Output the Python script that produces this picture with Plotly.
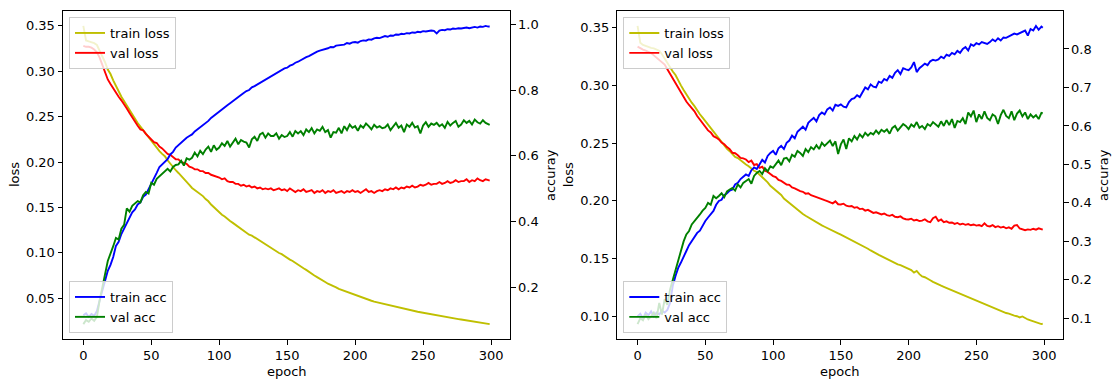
import plotly.graph_objects as go

# Training history, sampled every 2 epochs plus the final epoch (299)
epochs = list(range(0, 300, 2)) + [299]

# ---- run A (left panel) ----
a_train_loss = [
    0.350, 0.334, 0.333, 0.332, 0.331, 0.329, 0.323, 0.317, 0.310, 0.302,
    0.297, 0.290, 0.283, 0.278, 0.272, 0.267, 0.262, 0.257, 0.252, 0.248,
    0.243, 0.239, 0.235, 0.231, 0.227, 0.223, 0.219, 0.216, 0.212, 0.209,
    0.2065, 0.202, 0.198, 0.194, 0.191, 0.188, 0.185, 0.181, 0.178, 0.175,
    0.1715, 0.1695, 0.1672, 0.1648, 0.1625, 0.1592, 0.1568, 0.1532, 0.1505, 0.1472,
    0.144, 0.142, 0.140, 0.137, 0.135, 0.133, 0.131, 0.128, 0.126, 0.124,
    0.122, 0.120, 0.119, 0.117, 0.115, 0.113, 0.111, 0.109, 0.107, 0.105,
    0.1035, 0.1020, 0.0998, 0.0985, 0.0962, 0.0948, 0.0925, 0.0910, 0.0888, 0.0873,
    0.0852, 0.0830, 0.0812, 0.0789, 0.0772, 0.0750, 0.0733, 0.0712, 0.0695, 0.0678,
    0.0660, 0.0648, 0.0632, 0.0620, 0.0603, 0.0592, 0.0578, 0.0566, 0.0553, 0.0542,
    0.0530, 0.0521, 0.0510, 0.0502, 0.0490, 0.0480, 0.0472, 0.0462, 0.0455, 0.0444,
    0.0435, 0.0428, 0.0420, 0.0414, 0.0406, 0.0400, 0.0393, 0.0388, 0.0381, 0.0376,
    0.0370, 0.0363, 0.0358, 0.0351, 0.0346, 0.0340, 0.0333, 0.0328, 0.0322, 0.0316,
    0.0310, 0.0305, 0.0300, 0.0294, 0.0290, 0.0285, 0.0280, 0.0274, 0.0270, 0.0265,
    0.0260, 0.0256, 0.0250, 0.0247, 0.0241, 0.0235, 0.0231, 0.0226, 0.0221, 0.0218,
    0.0215,
]
a_val_loss = [
    0.328, 0.327, 0.327, 0.326, 0.324, 0.321, 0.315, 0.307, 0.300, 0.291,
    0.286, 0.281, 0.276, 0.272, 0.268, 0.264, 0.259, 0.254, 0.249, 0.244,
    0.240, 0.236, 0.235, 0.231, 0.228, 0.226, 0.222, 0.221, 0.217, 0.215,
    0.212, 0.209, 0.208, 0.206, 0.203, 0.203, 0.200, 0.199, 0.198, 0.195,
    0.194, 0.192, 0.192, 0.190, 0.190, 0.188, 0.188, 0.186, 0.185, 0.184,
    0.183, 0.181, 0.182, 0.179, 0.178, 0.178, 0.176, 0.176, 0.174, 0.175,
    0.173, 0.174, 0.172, 0.173, 0.171, 0.172, 0.170, 0.171, 0.170, 0.171,
    0.169, 0.170, 0.171, 0.169, 0.170, 0.168, 0.171, 0.169, 0.167, 0.169,
    0.168, 0.170, 0.167, 0.168, 0.169, 0.166, 0.168, 0.167, 0.169, 0.166,
    0.168, 0.167, 0.169, 0.166, 0.167, 0.168, 0.166, 0.168, 0.167, 0.169,
    0.167, 0.168, 0.166, 0.168, 0.170, 0.167, 0.168, 0.166, 0.168, 0.169,
    0.168, 0.170, 0.169, 0.171, 0.170, 0.172, 0.170, 0.172, 0.171, 0.173,
    0.172, 0.174, 0.172, 0.173, 0.175, 0.174, 0.175, 0.177, 0.175, 0.176,
    0.176, 0.178, 0.176, 0.177, 0.179, 0.177, 0.178, 0.180, 0.178, 0.179,
    0.179, 0.181, 0.178, 0.180, 0.179, 0.182, 0.180, 0.179, 0.181, 0.180,
    0.1795,
]
a_train_acc = [
    0.115, 0.121, 0.110, 0.119, 0.113, 0.128, 0.160, 0.190, 0.222, 0.250,
    0.268, 0.292, 0.326, 0.338, 0.362, 0.378, 0.395, 0.409, 0.428, 0.437,
    0.452, 0.458, 0.475, 0.482, 0.498, 0.513, 0.528, 0.548, 0.566, 0.575,
    0.584, 0.590, 0.604, 0.612, 0.625, 0.633, 0.641, 0.648, 0.655, 0.660,
    0.665, 0.674, 0.680, 0.688, 0.692, 0.700, 0.706, 0.715, 0.722, 0.729,
    0.736, 0.741, 0.749, 0.754, 0.760, 0.767, 0.772, 0.779, 0.785, 0.791,
    0.797, 0.800, 0.808, 0.812, 0.817, 0.822, 0.828, 0.833, 0.838, 0.843,
    0.848, 0.851, 0.857, 0.861, 0.866, 0.868, 0.874, 0.877, 0.883, 0.886,
    0.891, 0.895, 0.900, 0.903, 0.908, 0.913, 0.917, 0.920, 0.922, 0.925,
    0.927, 0.931, 0.930, 0.935, 0.936, 0.939, 0.938, 0.943, 0.941, 0.945,
    0.946, 0.944, 0.949, 0.951, 0.950, 0.954, 0.953, 0.957, 0.959, 0.958,
    0.962, 0.964, 0.962, 0.966, 0.965, 0.969, 0.968, 0.971, 0.970, 0.973,
    0.972, 0.975, 0.974, 0.977, 0.976, 0.979, 0.978, 0.980, 0.981, 0.980,
    0.972, 0.981, 0.983, 0.982, 0.985, 0.984, 0.987, 0.986, 0.988, 0.987,
    0.989, 0.990, 0.988, 0.991, 0.992, 0.990, 0.993, 0.992, 0.995, 0.993,
    0.993,
]
a_val_acc = [
    0.088, 0.100, 0.095, 0.105, 0.098, 0.110, 0.160, 0.205, 0.240, 0.280,
    0.300, 0.325, 0.350, 0.345, 0.378, 0.390, 0.440, 0.430, 0.448, 0.455,
    0.462, 0.458, 0.480, 0.490, 0.485, 0.518, 0.512, 0.530, 0.538, 0.545,
    0.553, 0.560, 0.552, 0.566, 0.572, 0.574, 0.585, 0.570, 0.592, 0.588,
    0.594, 0.610, 0.598, 0.615, 0.605, 0.619, 0.628, 0.612, 0.632, 0.618,
    0.625, 0.638, 0.630, 0.645, 0.628, 0.640, 0.652, 0.635, 0.648, 0.643,
    0.640, 0.625, 0.650, 0.658, 0.645, 0.665, 0.670, 0.655, 0.668, 0.660,
    0.660, 0.668, 0.652, 0.663, 0.657, 0.660, 0.672, 0.658, 0.675, 0.668,
    0.675, 0.663, 0.680, 0.672, 0.684, 0.668, 0.680, 0.676, 0.688, 0.672,
    0.678, 0.655, 0.672, 0.670, 0.685, 0.668, 0.690, 0.678, 0.695, 0.685,
    0.690, 0.676, 0.692, 0.685, 0.698, 0.690, 0.680, 0.694, 0.686, 0.690,
    0.684, 0.686, 0.695, 0.678, 0.690, 0.700, 0.685, 0.692, 0.672, 0.695,
    0.688, 0.700, 0.686, 0.690, 0.668, 0.692, 0.702, 0.688, 0.698, 0.694,
    0.700, 0.690, 0.696, 0.685, 0.703, 0.692, 0.700, 0.706, 0.688, 0.695,
    0.708, 0.700, 0.706, 0.695, 0.710, 0.702, 0.698, 0.708, 0.700, 0.696,
    0.694,
]

# ---- run B (right panel) ----
b_train_loss = [
    0.3515, 0.337, 0.335, 0.334, 0.333, 0.3325, 0.332, 0.331, 0.330, 0.327,
    0.323, 0.320, 0.316, 0.312, 0.309, 0.304, 0.300, 0.296, 0.292, 0.289,
    0.285, 0.282, 0.278, 0.275, 0.272, 0.269, 0.265, 0.262, 0.259, 0.256,
    0.253, 0.250, 0.248, 0.245, 0.243, 0.240, 0.238, 0.237, 0.235, 0.233,
    0.2315, 0.230, 0.228, 0.226, 0.225, 0.2228, 0.220, 0.218, 0.216, 0.213,
    0.211, 0.209, 0.207, 0.205, 0.202, 0.200, 0.198, 0.196, 0.194, 0.192,
    0.190, 0.1885, 0.187, 0.1855, 0.184, 0.1825, 0.1812, 0.180, 0.1787, 0.1775,
    0.1765, 0.1752, 0.174, 0.1728, 0.1718, 0.1707, 0.1695, 0.1685, 0.1672, 0.1662,
    0.165, 0.1638, 0.1625, 0.1612, 0.160, 0.1585, 0.157, 0.156, 0.1545, 0.1532,
    0.152, 0.1508, 0.1495, 0.1485, 0.147, 0.146, 0.145, 0.1443, 0.1432, 0.1422,
    0.1412, 0.1400, 0.1378, 0.1392, 0.1365, 0.1345, 0.1338, 0.1322, 0.1312, 0.1298,
    0.1285, 0.1278, 0.1265, 0.1255, 0.1245, 0.1235, 0.1228, 0.1215, 0.1205, 0.1195,
    0.1188, 0.1178, 0.1165, 0.1158, 0.1145, 0.1137, 0.1125, 0.1118, 0.1105, 0.1098,
    0.1088, 0.1080, 0.1068, 0.1060, 0.1048, 0.1040, 0.1028, 0.1022, 0.1012, 0.1005,
    0.1000, 0.0990, 0.0998, 0.0982, 0.0972, 0.0965, 0.0958, 0.0948, 0.0942, 0.0932,
    0.0936,
]
b_val_loss = [
    0.3335, 0.332, 0.331, 0.330, 0.329, 0.328, 0.326, 0.324, 0.322, 0.320,
    0.318, 0.314, 0.310, 0.306, 0.302, 0.298, 0.294, 0.289, 0.286, 0.283,
    0.2806, 0.2775, 0.2735, 0.2705, 0.2675, 0.2648, 0.2610, 0.2592, 0.2560, 0.2548,
    0.2532, 0.2505, 0.2490, 0.2465, 0.2448, 0.2416, 0.2412, 0.2395, 0.2372, 0.2368,
    0.2358, 0.2335, 0.2348, 0.2310, 0.2318, 0.2286, 0.2295, 0.2260, 0.2250, 0.2232,
    0.2214, 0.2205, 0.2180, 0.2172, 0.2158, 0.2141, 0.2138, 0.2115, 0.2108, 0.2095,
    0.2084, 0.2078, 0.2062, 0.2065, 0.2048, 0.2040, 0.2030, 0.2022, 0.2010, 0.2005,
    0.1997, 0.1990, 0.1978, 0.1995, 0.1970, 0.1968, 0.1975, 0.1958, 0.1952, 0.1955,
    0.1940, 0.1945, 0.1928, 0.1932, 0.1915, 0.1922, 0.1905, 0.1895, 0.1900, 0.1888,
    0.1882, 0.1890, 0.1876, 0.1870, 0.1878, 0.1862, 0.1858, 0.1865, 0.1848, 0.1840,
    0.1838, 0.1845, 0.1830, 0.1835, 0.1825, 0.1828, 0.1840, 0.1822, 0.1815, 0.1850,
    0.1862, 0.1825, 0.1838, 0.1815, 0.1822, 0.1810, 0.1812, 0.1800, 0.1808, 0.1795,
    0.1802, 0.1792, 0.1798, 0.1788, 0.1795, 0.1785, 0.1790, 0.1780, 0.1805, 0.1782,
    0.1778, 0.1790, 0.1772, 0.1780, 0.1768, 0.1775, 0.1762, 0.1770, 0.1758, 0.1785,
    0.1790, 0.1760, 0.1750, 0.1745, 0.1752, 0.1748, 0.1758, 0.1750, 0.1762, 0.1752,
    0.1750,
]
b_train_acc = [
    0.105, 0.112, 0.100, 0.115, 0.108, 0.118, 0.105, 0.115, 0.110, 0.120,
    0.115, 0.122, 0.140, 0.185, 0.210, 0.231, 0.245, 0.262, 0.275, 0.290,
    0.300, 0.310, 0.322, 0.328, 0.342, 0.353, 0.362, 0.370, 0.379, 0.395,
    0.405, 0.408, 0.420, 0.425, 0.432, 0.435, 0.448, 0.452, 0.462, 0.468,
    0.474, 0.470, 0.485, 0.492, 0.488, 0.500, 0.512, 0.505, 0.522, 0.530,
    0.535, 0.525, 0.542, 0.548, 0.540, 0.556, 0.562, 0.575, 0.568, 0.585,
    0.591, 0.598, 0.590, 0.608, 0.615, 0.621, 0.612, 0.628, 0.635, 0.630,
    0.643, 0.648, 0.640, 0.655, 0.652, 0.656, 0.650, 0.648, 0.662, 0.670,
    0.672, 0.680, 0.675, 0.688, 0.700, 0.695, 0.708, 0.702, 0.700, 0.715,
    0.712, 0.722, 0.718, 0.730, 0.725, 0.738, 0.745, 0.735, 0.750, 0.747,
    0.745, 0.752, 0.766, 0.740, 0.750, 0.756, 0.762, 0.758, 0.768, 0.772,
    0.770, 0.773, 0.780, 0.776, 0.785, 0.782, 0.790, 0.786, 0.795, 0.790,
    0.800, 0.805, 0.796, 0.812, 0.808, 0.815, 0.812, 0.818, 0.816, 0.813,
    0.818, 0.825, 0.820, 0.828, 0.822, 0.830, 0.829, 0.833, 0.836, 0.840,
    0.838, 0.842, 0.845, 0.848, 0.835, 0.852, 0.848, 0.860, 0.850, 0.858,
    0.855,
]
b_val_acc = [
    0.085, 0.100, 0.095, 0.110, 0.098, 0.105, 0.115, 0.100, 0.140, 0.110,
    0.150, 0.135, 0.175, 0.200, 0.225, 0.257, 0.275, 0.300, 0.318, 0.327,
    0.344, 0.352, 0.362, 0.370, 0.380, 0.387, 0.400, 0.395, 0.418, 0.412,
    0.418, 0.425, 0.415, 0.430, 0.435, 0.439, 0.432, 0.448, 0.440, 0.452,
    0.457, 0.462, 0.450, 0.470, 0.478, 0.483, 0.475, 0.490, 0.482, 0.495,
    0.491, 0.500, 0.510, 0.498, 0.515, 0.517, 0.508, 0.525, 0.520, 0.535,
    0.530, 0.522, 0.540, 0.532, 0.545, 0.539, 0.550, 0.540, 0.556, 0.548,
    0.556, 0.562, 0.548, 0.560, 0.527, 0.552, 0.565, 0.540, 0.568, 0.560,
    0.574, 0.565, 0.578, 0.570, 0.582, 0.575, 0.582, 0.578, 0.588, 0.580,
    0.590, 0.585, 0.591, 0.580, 0.595, 0.600, 0.588, 0.598, 0.605, 0.600,
    0.592, 0.604, 0.598, 0.610, 0.595, 0.600, 0.592, 0.605, 0.600, 0.610,
    0.604, 0.598, 0.612, 0.600, 0.615, 0.602, 0.618, 0.595, 0.613, 0.610,
    0.620, 0.605, 0.635, 0.625, 0.640, 0.610, 0.630, 0.618, 0.638, 0.621,
    0.615, 0.630, 0.625, 0.605, 0.628, 0.642, 0.626, 0.620, 0.638, 0.615,
    0.632, 0.640, 0.625, 0.635, 0.618, 0.630, 0.622, 0.628, 0.618, 0.634,
    0.633,
]

W, H = 1113, 379
FONT = dict(family="DejaVu Sans", size=13, color="black")
COLORS = dict(train_loss="#bfbf00", val_loss="#ff0000", train_acc="#0000ff", val_acc="#008000")
LW = 1.9


def fx(px):
    return px / W


def fy(py):
    return 1 - py / H


def padded(*series):
    lo = min(min(s) for s in series)
    hi = max(max(s) for s in series)
    pad = 0.05 * (hi - lo)
    return [lo - pad, hi + pad]


panels = [
    dict(loss=(a_train_loss, a_val_loss), acc=(a_train_acc, a_val_acc),
         left=63, right=510, loss_dtick=0.05, acc_dtick=0.2),
    dict(loss=(b_train_loss, b_val_loss), acc=(b_train_acc, b_val_acc),
         left=617.3, right=1063, loss_dtick=0.05, acc_dtick=0.1),
]
TOP, BOTTOM = 11, 339

fig = go.Figure()
layout = dict(
    width=W, height=H, margin=dict(l=0, r=0, t=0, b=0),
    paper_bgcolor="white", plot_bgcolor="white", showlegend=True,
    font=FONT,
)
annotations = []

axis_common = dict(
    showline=True, linecolor="black", linewidth=1, ticks="outside", ticklen=4.5,
    tickwidth=1, tickcolor="black", showgrid=False, zeroline=False, tickfont=FONT,
)

for i, p in enumerate(panels):
    xa = "x" if i == 0 else "x2"
    ya_loss = "y" if i == 0 else "y3"
    ya_acc = "y2" if i == 0 else "y4"
    leg_top = "legend" if i == 0 else "legend3"
    leg_bot = "legend2" if i == 0 else "legend4"

    tl, vl = p["loss"]
    ta, va = p["acc"]
    fig.add_trace(go.Scatter(x=epochs, y=tl, mode="lines", name="train loss",
                             line=dict(color=COLORS["train_loss"], width=LW),
                             xaxis=xa, yaxis=ya_loss, legend=leg_top))
    fig.add_trace(go.Scatter(x=epochs, y=vl, mode="lines", name="val loss",
                             line=dict(color=COLORS["val_loss"], width=LW),
                             xaxis=xa, yaxis=ya_loss, legend=leg_top))
    fig.add_trace(go.Scatter(x=epochs, y=ta, mode="lines", name="train acc",
                             line=dict(color=COLORS["train_acc"], width=LW),
                             xaxis=xa, yaxis=ya_acc, legend=leg_bot))
    fig.add_trace(go.Scatter(x=epochs, y=va, mode="lines", name="val acc",
                             line=dict(color=COLORS["val_acc"], width=LW),
                             xaxis=xa, yaxis=ya_acc, legend=leg_bot))

    xname = "xaxis" if i == 0 else "xaxis2"
    yl_name = "yaxis" if i == 0 else "yaxis3"
    ya_name = "yaxis2" if i == 0 else "yaxis4"

    layout[xname] = dict(axis_common, domain=[fx(p["left"]), fx(p["right"])],
                         anchor=ya_loss, range=padded(epochs), tick0=0, dtick=50,
                         mirror=True)
    layout[yl_name] = dict(axis_common, domain=[fy(BOTTOM), fy(TOP)], anchor=xa,
                           range=padded(tl, vl), tick0=0, dtick=p["loss_dtick"],
                           tickformat=".2f", side="left")
    layout[ya_name] = dict(axis_common, overlaying=ya_loss, anchor=xa, side="right",
                           range=padded(ta, va), tick0=0, dtick=p["acc_dtick"],
                           tickformat=".1f")

    legend_style = dict(bgcolor="rgba(255,255,255,0.8)", bordercolor="#cccccc",
                        borderwidth=1, font=FONT, xref="paper", yref="paper",
                        xanchor="left", itemwidth=30, tracegroupgap=0)
    layout[leg_top] = dict(legend_style, x=fx(p["left"] + 6), y=fy(TOP + 6), yanchor="top")
    layout[leg_bot] = dict(legend_style, x=fx(p["left"] + 6), y=fy(BOTTOM - 6), yanchor="bottom")

    cx = (p["left"] + p["right"]) / 2
    annotations.append(dict(text="epoch", x=fx(cx), y=fy(371.5), xref="paper", yref="paper",
                            showarrow=False, xanchor="center", yanchor="middle", font=FONT))
    annotations.append(dict(text="loss", x=fx(p["left"] - 48), y=fy((TOP + BOTTOM) / 2),
                            xref="paper", yref="paper", showarrow=False, textangle=-90,
                            xanchor="center", yanchor="middle", font=FONT))
    annotations.append(dict(text="accuray", x=fx(p["right"] + 41), y=fy((TOP + BOTTOM) / 2),
                            xref="paper", yref="paper", showarrow=False, textangle=-90,
                            xanchor="center", yanchor="middle", font=FONT))

layout["annotations"] = annotations
fig.update_layout(**layout)
fig.write_html("out.html")
